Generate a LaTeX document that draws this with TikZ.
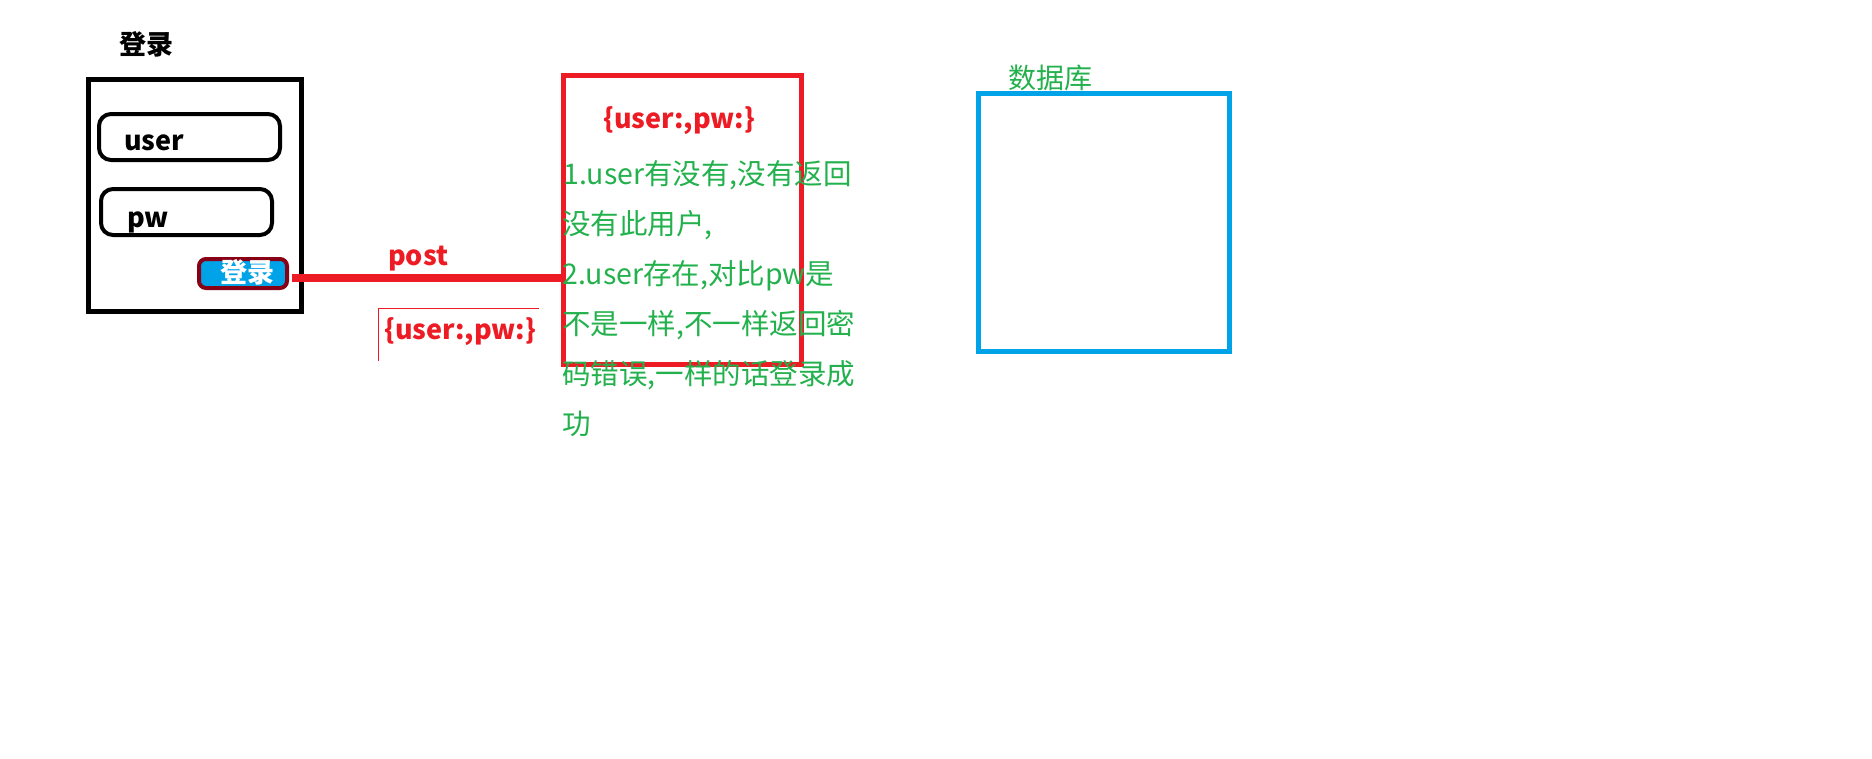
\documentclass[tikz,border=0pt]{standalone}
\usepackage{fontspec}
\setmainfont{Noto Sans CJK SC}
\definecolor{pred}{HTML}{ED1C24}
\definecolor{pgreen}{HTML}{22B14C}
\definecolor{pblue}{HTML}{00A2E8}
\definecolor{pdark}{HTML}{880015}
\tikzset{
  box/.style={line width=5pt},
  field/.style={draw=black,line width=4pt,rounded corners=12pt},
  lbl/.style={inner sep=0pt,anchor=base west},
  bigbold/.style={lbl,font=\fontsize{27}{30}\selectfont\bfseries},
  gtxt/.style={lbl,text=pgreen,font=\fontsize{28.5}{30}\selectfont},
  redlbl/.style={bigbold,text=pred},
}
\begin{document}
\begin{tikzpicture}[x=1pt,y=-1pt]
\useasboundingbox[fill=white] (0,0) rectangle (1872,758);
% client
\node[bigbold,anchor=base] (title) at (146,54) {登录};
\draw[box,draw=black] (88.5,79.5) rectangle (301.5,311.5);
\node[field,minimum width=181pt,minimum height=46pt,anchor=north west,inner sep=0pt] (userbox) at (97,112) {};
\node[bigbold] (usertxt) at (124,150) {user};
\node[field,minimum width=171pt,minimum height=46pt,anchor=north west,inner sep=0pt] (pwbox) at (99,187) {};
\node[bigbold] (pwtxt) at (127,227) {pw};
\node[draw=pdark,fill=pblue,line width=4pt,rounded corners=7pt,minimum width=88pt,minimum height=29pt,anchor=north west,inner sep=0pt] (btn) at (197,257) {};
\node[bigbold,anchor=base,text=white] (btntxt) at (247,282) {登录};
% server box
\node[minimum width=238pt,minimum height=289pt,anchor=north west,inner sep=0pt] (server) at (563.5,75.5) {};
\draw[box,draw=pred] (server.north west) rectangle (server.south east);
% connector
\coordinate (p0) at (292,278);
\draw[pred,line width=8pt] (p0) -- (p0 -| server.west);
\node[redlbl] (post) at (388,265) {post};
\coordinate (b1) at (378,361);
\coordinate (b2) at (378,308);
\coordinate (b3) at (539,308);
\draw[pred,line width=1pt] (b1) -- (b2) -- (b3);
\node[redlbl] (payload) at (384,339) {\{user:,pw:\}};
\node[redlbl] (payload2) at (603,128) {\{user:,pw:\}};
\node[gtxt] (g1) at (563,184.5) {1.user有没有,没有返回};
\node[gtxt] (g2) at (562,234.5) {没有此用户,};
\node[gtxt] (g3) at (562,284.5) {2.user存在,对比pw是};
\node[gtxt] (g4) at (562,334.5) {不是一样,不一样返回密};
\node[gtxt] (g5) at (562,384.5) {码错误,一样的话登录成};
\node[gtxt] (g6) at (562,434.5) {功};
% database
\draw[box,draw=pblue] (978.5,93.5) rectangle (1229.5,351.5);
\node[gtxt,font=\fontsize{28}{30}\selectfont] (db) at (1008,88) {数据库};
\end{tikzpicture}
\end{document}
